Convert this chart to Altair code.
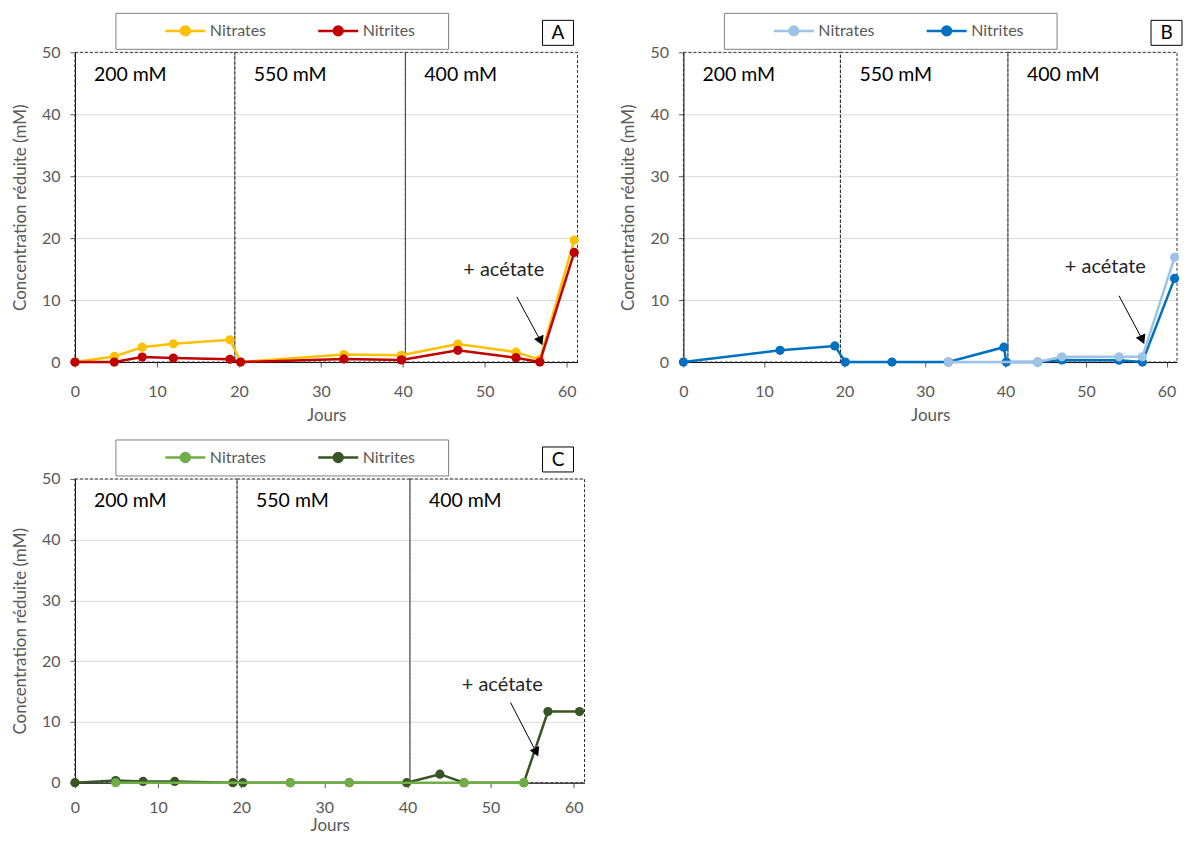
import altair as alt
import pandas as pd

FONT = "Lato"
GREY = "#595959"
SERIES = ["Nitrates", "Nitrites"]

# ---------------- data ----------------
A_days = [0, 4.8, 8.2, 12.0, 18.9, 20.2, 32.8, 39.8, 46.7, 53.8, 56.7, 60.9]
A_nitrates = [0, 0.9, 2.4, 2.95, 3.6, 0, 1.2, 1.1, 2.9, 1.6, 0.4, 19.7]
A_nitrites = [0, 0, 0.8, 0.65, 0.45, 0, 0.5, 0.35, 1.9, 0.7, 0, 17.7]

B_days = [0, 12.0, 18.8, 20.1, 25.9, 32.9, 39.8, 40.1, 44.0, 47.0, 54.1, 57.0, 61.0]
B_nitrates = [None, None, None, None, None, 0, None, None, 0, 0.85, 0.85, 0.85, 16.9]
B_nitrites = [0, 1.9, 2.6, 0, 0, 0, 2.4, 0, 0, 0.35, 0.3, 0, 13.5]

C_days = [0, 4.9, 8.2, 12.0, 19.0, 20.2, 25.9, 33.0, 39.9, 43.9, 46.8, 54.0, 56.9, 60.7]
C_nitrates = [None, 0, None, None, None, None, 0, 0, None, None, 0, 0, None, None]
C_nitrites = [0, 0.35, 0.2, 0.2, 0, 0, 0, 0, 0, 1.4, 0, 0, 11.7, 11.7]

A_colors = ["#FFC000", "#C00000"]
B_colors = ["#9DC3E6", "#0070C0"]
C_colors = ["#70AD47", "#375623"]

region_start = [0, 19.5, 40.3]
region_end = [19.5, 40.3, 61.3]
region_label = ["200 mM", "550 mM", "400 mM"]

# annotation "+ acétate": text position, arrow tail, arrow head (data units)
A_ann = {"tx": 52.3, "ty": 14.9, "x1": 53.9, "y1": 10.5, "x2": 56.8, "y2": 3.4}
B_ann = {"tx": 52.4, "ty": 15.3, "x1": 54.1, "y1": 10.7, "x2": 57.0, "y2": 3.6}
C_ann = {"tx": 51.4, "ty": 16.0, "x1": 52.4, "y1": 13.2, "x2": 55.5, "y2": 5.0}

LEG_PATH = ("M-2,0H2M0.44,0A0.44,0.44 0 1,1 -0.44,0"
            "A0.44,0.44 0 1,1 0.44,0Z")

XMAX = 61.3


def panel(days, nitrates, nitrites, colors, letter, ann, top, width,
          height=310, xlabpad=16, xtitlepad=9):
    rows = []
    for d, v in zip(days, nitrates):
        if v is not None:
            rows.append({"Jours": d, "val": v, "serie": "Nitrates"})
    for d, v in zip(days, nitrites):
        if v is not None:
            rows.append({"Jours": d, "val": v, "serie": "Nitrites"})
    df = pd.DataFrame(rows)

    xs = alt.Scale(domain=[0, XMAX], nice=False, zero=False)
    ys = alt.Scale(domain=[0, 50], nice=False)
    xaxis = alt.Axis(values=[0, 10, 20, 30, 40, 50, 60], title="Jours",
                     grid=False, labelPadding=xlabpad, titlePadding=xtitlepad,
                     labelFlush=False)
    yaxis = alt.Axis(values=[0, 10, 20, 30, 40, 50],
                     title="Concentration réduite (mM)", grid=True,
                     labelPadding=10, titlePadding=12)
    x = alt.X("Jours:Q", scale=xs, axis=xaxis)
    y = alt.Y("val:Q", scale=ys, axis=yaxis)
    legend = alt.Legend(orient="none", legendX=99, legendY=-33,
                        direction="horizontal", title=None,
                        symbolType=LEG_PATH, symbolSize=400,
                        symbolStrokeWidth=2.5, labelFont=FONT,
                        labelFontSize=16, labelColor=GREY, labelOffset=13,
                        columnPadding=46, padding=0)
    color = alt.Color("serie:N", scale=alt.Scale(domain=SERIES, range=colors),
                      legend=legend)

    regions = pd.DataFrame({"start": region_start, "end": region_end,
                            "label": region_label, "y0": [0] * 3,
                            "y1": [50] * 3, "ly": [46.4] * 3})
    box = alt.Chart(regions).mark_rect(
        fillOpacity=0, stroke="#303030", strokeWidth=1, strokeDash=[3, 2]
    ).encode(x=alt.X("start:Q", scale=xs, axis=xaxis),
             x2="end:Q",
             y=alt.Y("y0:Q", scale=ys, axis=yaxis), y2="y1:Q")
    rlabels = alt.Chart(regions).mark_text(
        align="left", baseline="middle", dx=19, font=FONT, fontSize=19.5,
        color="#000000"
    ).encode(x=alt.X("start:Q", scale=xs, axis=xaxis),
             y=alt.Y("ly:Q", scale=ys, axis=yaxis),
             text="label:N")

    layers = []
    order = SERIES if top == "Nitrites" else SERIES[::-1]
    for s in order:
        base = alt.Chart(df).transform_filter(alt.datum.serie == s)
        layers.append(base.mark_line(strokeWidth=2.5).encode(x=x, y=y, color=color))
        layers.append(base.mark_point(filled=True, size=85, opacity=1).encode(
            x=x, y=y, color=color))

    adf = pd.DataFrame([ann])
    arrow = alt.Chart(adf).mark_rule(color="#000000", strokeWidth=1).encode(
        x=alt.X("x1:Q", scale=xs, axis=xaxis),
        y=alt.Y("y1:Q", scale=ys, axis=yaxis),
        x2="x2:Q", y2="y2:Q")
    head = alt.Chart(adf).mark_point(
        shape="triangle-up", filled=True, size=110, color="#000000",
        opacity=1, angle=156
    ).encode(x=alt.X("x2:Q", scale=xs, axis=xaxis),
             y=alt.Y("y2:Q", scale=ys, axis=yaxis))
    atext = alt.Chart(adf).mark_text(
        text="+ acétate", font=FONT, fontSize=20, color="#262626",
        align="center", baseline="middle"
    ).encode(x=alt.X("tx:Q", scale=xs, axis=xaxis),
             y=alt.Y("ty:Q", scale=ys, axis=yaxis))

    one = pd.DataFrame({"letter": [letter]})
    legbox = alt.Chart(one).mark_rect(
        fill="#ffffff", stroke="#7f7f7f", strokeWidth=1
    ).encode(x=alt.value(41), x2=alt.value(374), y=alt.value(-39),
             y2=alt.value(-3))
    letbox = alt.Chart(one).mark_rect(
        fill="#ffffff", stroke="#000000", strokeWidth=1
    ).encode(x=alt.value(468), x2=alt.value(499), y=alt.value(-32),
             y2=alt.value(-7))
    lettxt = alt.Chart(one).mark_text(
        font=FONT, fontSize=19, color="#000000", align="center",
        baseline="middle"
    ).encode(x=alt.value(483.5), y=alt.value(-19), text="letter:N")

    return alt.layer(box, rlabels, *layers, arrow, head, atext,
                     legbox, letbox, lettxt).properties(width=width, height=height)


pA = panel(A_days, A_nitrates, A_nitrites, A_colors, "A", A_ann, "Nitrites", 503)
pB = panel(B_days, B_nitrates, B_nitrites, B_colors, "B", B_ann, "Nitrates", 494)
pC = panel(C_days, C_nitrates, C_nitrites, C_colors, "C", C_ann, "Nitrates", 510,
           height=304, xlabpad=12, xtitlepad=2)

row1 = alt.hconcat(pA, pB, spacing=40).resolve_scale(
    color="independent", x="independent").resolve_legend(color="independent")
chart = alt.vconcat(row1, pC, spacing=15).resolve_scale(
    color="independent", x="independent").resolve_legend(color="independent")

chart = chart.configure_view(stroke=None).configure_axis(
    labelFont=FONT, titleFont=FONT, labelFontSize=16, titleFontSize=17,
    labelColor=GREY, titleColor=GREY, titleFontWeight="normal",
    domainColor="#000000", domainWidth=1, tickColor="#595959", tickSize=5,
    gridColor="#d9d9d9", gridWidth=1
).properties(padding={"left": 3, "top": 4, "right": 0, "bottom": 0},
             background="#ffffff")

chart.save("out.html", embed_options={"renderer": "svg", "actions": False})
